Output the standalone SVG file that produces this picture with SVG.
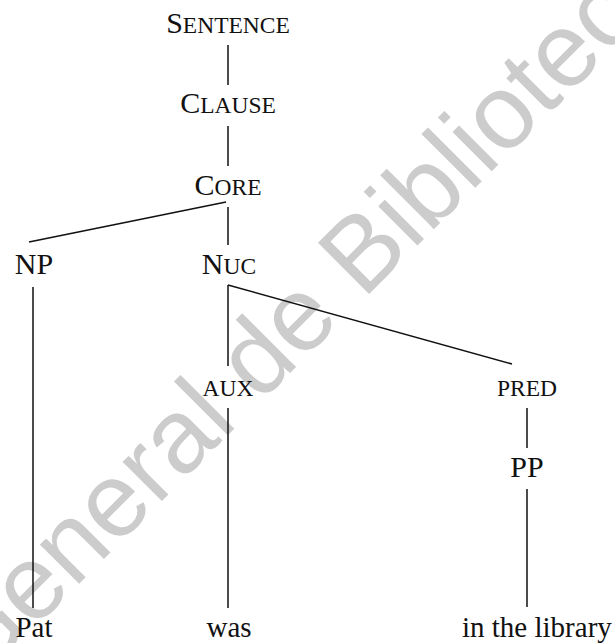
<svg xmlns="http://www.w3.org/2000/svg" width="615" height="643" viewBox="0 0 615 643">
  <style>
    .lbl { font-family: "Liberation Serif", "Times New Roman", serif; fill: #111; text-anchor: middle; }
    .big { font-size: 30px; }
    .sc { font-size: 23.5px; }
    .leaf { font-size: 29px; }
    .edge { stroke: #111; stroke-width: 1.5; fill: none; stroke-linecap: butt; }
    .mark { font-family: "Liberation Sans", Arial, sans-serif; font-size: 105px; fill: #cccccc; }
  </style>
  <rect width="615" height="643" fill="#ffffff"/>

  <!-- watermark, behind the tree -->
  <text class="mark" transform="translate(-25,688) rotate(-45)">General de Biblioteca</text>

  <g id="connectors">
    <line class="edge" x1="228" y1="45" x2="228" y2="85"/>
    <line class="edge" x1="228" y1="126" x2="228" y2="166"/>
    <line class="edge" x1="226" y1="202" x2="29" y2="242"/>
    <line class="edge" x1="228" y1="207" x2="228" y2="245"/>
    <line class="edge" x1="33" y1="287" x2="33" y2="608"/>
    <line class="edge" x1="228" y1="285" x2="228" y2="366"/>
    <line class="edge" x1="228" y1="285" x2="512" y2="364"/>
    <line class="edge" x1="228" y1="408" x2="228" y2="608"/>
    <line class="edge" x1="527" y1="408" x2="527" y2="448"/>
    <line class="edge" x1="527" y1="489" x2="527" y2="607"/>
  </g>

  <g id="sentence"><text class="lbl big" x="228" y="33">S<tspan class="sc">ENTENCE</tspan></text></g>
  <g id="clause"><text class="lbl big" x="228" y="113">C<tspan class="sc">LAUSE</tspan></text></g>
  <g id="core"><text class="lbl big" x="228" y="195">C<tspan class="sc">ORE</tspan></text></g>
  <g id="np"><text class="lbl big" x="34" y="274">NP</text></g>
  <g id="nuc"><text class="lbl big" x="229" y="274">N<tspan class="sc">UC</tspan></text></g>
  <g id="aux"><text class="lbl sc" x="228" y="396">AUX</text></g>
  <g id="pred"><text class="lbl sc" x="527" y="396">PRED</text></g>
  <g id="pp"><text class="lbl big" x="527" y="477">PP</text></g>
  <g id="pat"><text class="lbl leaf" x="34" y="637">Pat</text></g>
  <g id="was"><text class="lbl leaf" x="229" y="637">was</text></g>
  <g id="in-the-library"><text class="lbl leaf" x="462" y="637" style="text-anchor:start">in the library</text></g>
</svg>
